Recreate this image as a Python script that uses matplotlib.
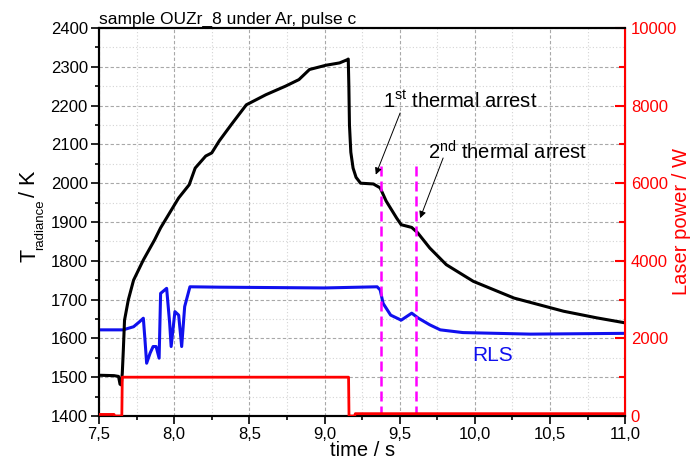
import numpy as np
import matplotlib
matplotlib.use('Agg')
import matplotlib.pyplot as plt
from matplotlib.ticker import MultipleLocator, FuncFormatter

plt.rcParams['font.family'] = ['Liberation Sans', 'DejaVu Sans']
plt.rcParams['mathtext.default'] = 'regular'

# radiance temperature (K)
t_T = [7.50, 7.60, 7.63, 7.640, 7.648, 7.655, 7.662, 7.67, 7.695, 7.73, 7.795,
       7.87, 7.91, 8.03, 8.10, 8.14, 8.21, 8.25, 8.30, 8.38, 8.48, 8.61, 8.74,
       8.83, 8.90, 9.01, 9.10, 9.15, 9.158, 9.162, 9.166, 9.175, 9.19, 9.21,
       9.24, 9.325, 9.37, 9.41, 9.48, 9.51, 9.58, 9.62, 9.70, 9.81, 9.99,
       10.26, 10.59, 10.81, 11.0]
T = [1505, 1504, 1502, 1482, 1480, 1510, 1570, 1647, 1699, 1750, 1802,
     1854, 1885, 1962, 1996, 2039, 2070, 2078, 2109, 2151, 2202, 2228, 2250,
     2267, 2293, 2304, 2310, 2318, 2320, 2250, 2150, 2080, 2039, 2015,
     2000, 1998, 1988, 1954, 1910, 1893, 1886, 1872, 1833, 1790, 1747,
     1704, 1670, 1653, 1640]

# RLS signal (plotted on the temperature scale)
t_R = [7.50, 7.66, 7.73, 7.77, 7.795, 7.806, 7.817, 7.84, 7.86, 7.88, 7.90,
       7.91, 7.95, 7.97, 7.98, 8.005, 8.03, 8.05, 8.07, 8.105, 8.3, 9.0, 9.35,
       9.37, 9.39, 9.44, 9.51, 9.58, 9.625, 9.70, 9.77, 9.92, 10.37, 11.0]
R = [1622, 1622, 1630, 1643, 1652, 1596, 1536, 1562, 1579, 1579, 1549,
     1716, 1729, 1640, 1579, 1669, 1660, 1579, 1682, 1733, 1732, 1730, 1733,
     1725, 1690, 1660, 1647, 1665, 1652, 1635, 1622, 1615, 1611, 1613]

# laser power (W)
t_L = [7.50, 7.60, 7.605, 7.652, 7.655, 9.160, 9.163, 9.20, 9.205, 10.99]
L = [40, 40, 0, 0, 1000, 1000, 0, 0, 60, 60]

arrests = [9.375, 9.61]

W, H = 697, 465
fig = plt.figure(figsize=(W / 100, H / 100), dpi=100)
ax = fig.add_axes([0.142, 0.1054, 0.755, 0.8344])
ax2 = ax.twinx()

ax.plot(t_T, T, color='black', lw=2.2, zorder=4)
ax.plot(t_R, R, color='#1010ee', lw=2.2, zorder=3)
for ta in arrests:
    ax.plot([ta, ta], [1400, 2052], color='#ff00ff', lw=1.8,
            linestyle=(0, (4, 2)), zorder=5)
ax2.plot(t_L, L, color='red', lw=2, zorder=3)

ax.set_xlim(7.5, 11.0)
ax.set_ylim(1400, 2400)
ax2.set_ylim(0, 10000)

ax.xaxis.set_major_locator(MultipleLocator(0.5))
ax.xaxis.set_minor_locator(MultipleLocator(0.25))
ax.yaxis.set_major_locator(MultipleLocator(100))
ax.yaxis.set_minor_locator(MultipleLocator(50))
ax2.yaxis.set_major_locator(MultipleLocator(2000))
ax2.yaxis.set_minor_locator(MultipleLocator(1000))
ax.xaxis.set_major_formatter(FuncFormatter(lambda v, p: f'{v:.1f}'.replace('.', ',')))

ax.grid(which='major', color='#a8a8a8', linestyle=(0, (3, 2)), lw=0.8)
ax.grid(which='minor', color='#d4d4d4', linestyle=(0, (1, 2)), lw=0.8)

ax.tick_params(which='both', direction='out', labelsize=12, width=1.2,
               top=False, right=False)
ax.tick_params(which='major', length=6, pad=2)
ax.tick_params(which='minor', length=3)
ax2.tick_params(axis='y', which='both', direction='in', colors='red',
                labelsize=12, width=1.5)
ax2.tick_params(axis='y', which='major', length=7, pad=4)
ax2.tick_params(axis='y', which='minor', length=4)

for s in ['left', 'bottom', 'top']:
    ax.spines[s].set_linewidth(1.5)
    ax2.spines[s].set_linewidth(1.5)
ax2.spines['right'].set_color('red')
ax2.spines['right'].set_linewidth(1.5)

ax.set_xlabel('time / s', fontsize=14.5, labelpad=-1)
ax2.set_ylabel('Laser power / W', fontsize=14.5, color='red')
ax2.yaxis.set_label_coords(1.089, 0.5)
ax.set_title('sample OUZr_8 under Ar, pulse c', loc='left', fontsize=12.5, pad=3)

# left axis label: T with a small subscript, built from pieces (pixel positions)
lab = dict(rotation=90, rotation_mode='anchor', ha='left', va='baseline')
fig.text(35 / W, 1 - 262 / H, 'T', fontsize=15.5, **lab)
fig.text(43 / W, 1 - 250 / H, 'radiance', fontsize=9.5, **lab)
fig.text(35 / W, 1 - 197 / H, '/ K', fontsize=15.5, **lab)

arrow = dict(arrowstyle='-|>', color='black', lw=0.7, mutation_scale=10,
             shrinkA=0, shrinkB=0)
ax.text(9.39, 2194, '1$^{st}$ thermal arrest', fontsize=14.5, va='baseline', zorder=6)
ax.annotate('', xy=(9.341, 2022), xytext=(9.503, 2181), arrowprops=arrow, zorder=6)
ax.text(9.689, 2060, '2$^{nd}$ thermal arrest', fontsize=14.5, va='baseline', zorder=6)
ax.annotate('', xy=(9.636, 1910), xytext=(9.789, 2065), arrowprops=arrow, zorder=6)
ax.text(10.12, 1557, 'RLS', color='#1010ee', fontsize=15, ha='center', va='center')

fig.savefig('out.png', dpi=100)
